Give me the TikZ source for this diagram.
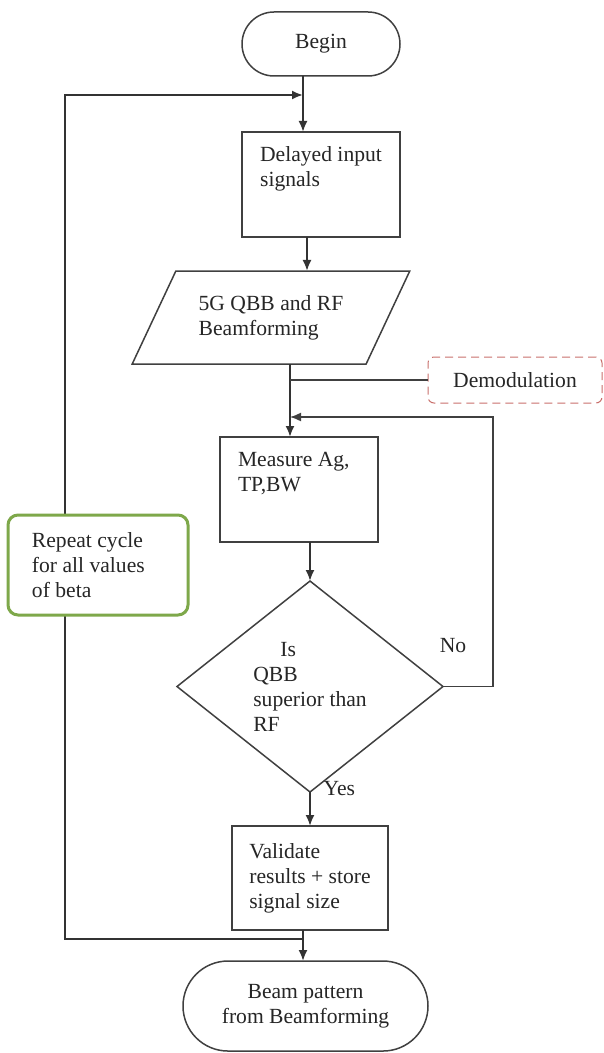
\documentclass[tikz,border=0pt]{standalone}
\usepackage{fontspec}
\setmainfont{Liberation Serif}
\usetikzlibrary{shapes.geometric,calc,arrows.meta,positioning}
\definecolor{lineg}{HTML}{404040}
\definecolor{leafg}{HTML}{7EA84A}
\definecolor{demred}{HTML}{C9706C}

\begin{document}
\begin{tikzpicture}[x=0.5pt, y=-0.5pt, >={Latex[length=5.5pt,width=4.5pt]}, font=\fontsize{10.8}{12.5}\selectfont,
  box/.style={draw=lineg, line width=0.75pt, fill=white, outer sep=0pt, align=left, text=black!85},
  proc/.style={box, minimum width=79pt, minimum height=52.5pt},
  term/.style={box, align=center},
  flow/.style={draw=black!80, line width=1pt}]
\useasboundingbox (0,0) rectangle (604,1053);
\node[term, minimum width=79pt, minimum height=32pt, rounded corners=16pt] (begin) at (321,44) {Begin};
\node[proc, below=28pt of begin] (delay) {Delayed input\\signals\\[5pt]\mbox{}};
\node[box, trapezium, trapezium left angle=58, trapezium right angle=122, trapezium stretches=true, minimum width=139pt, minimum height=46.5pt, below=17pt of delay, xshift=-25pt] (para) {5G QBB and RF\\Beamforming};
\node[proc, below=36.5pt of para, xshift=14pt] (meas) {\makebox[61pt][l]{Measure Ag,}\\TP,BW\\[5pt]\mbox{}};
\node[box, diamond, aspect=1.3, inner sep=0pt, minimum width=133pt, minimum height=105.5pt, below=19.5pt of meas, xshift=5.5pt] (dec) {\hspace*{13.5pt}Is\\QBB\\superior than\\RF};
\node[proc, minimum width=78pt, minimum height=52pt, below=17pt of dec] (valid) {Validate\\results + store\\signal size};
\node[term, minimum width=122.5pt, minimum height=45pt, rounded corners=22.5pt, below=15.5pt of valid, xshift=-2.25pt] (beam) {Beam pattern\\from Beamforming};
\node[box, draw=demred, line width=0.5pt, dash pattern=on 4pt off 2.5pt, rounded corners=3pt, minimum width=87pt, minimum height=23pt, align=center] (demod) at (515,380) {Demodulation};

\coordinate (tjoin) at (303,95);
\coordinate (djoin) at (290,380);
\coordinate (mjoin) at (290,417);
\coordinate (nocorner) at (493,417);
\coordinate (bjoin) at (303,939);
\coordinate (lbot) at (65,939);
\coordinate (ltop) at (65,95);

\draw[flow] (begin.south -| tjoin) -- (tjoin);
\draw[flow, ->] (tjoin) -- (tjoin |- delay.north);
\draw[flow, ->] ([xshift=-7pt]delay.south) -- ([xshift=-7pt]delay.south |- para.north);
\draw[flow] (para.south -| djoin) -- (mjoin);
\draw[flow, ->] (mjoin) -- (mjoin |- meas.north);
\draw[draw=lineg, line width=0.6pt] (djoin) -- (demod.west);
\draw[flow, ->] (dec.north |- meas.south) -- (dec.north);
\draw[draw=lineg, line width=0.75pt, ->] (dec.east) -| node[pos=0.1, above=13pt, text=black!85] {No} (nocorner) -- (mjoin);
\draw[flow, ->] (dec.south) -- node[pos=0, right=3pt, yshift=1.5pt, text=black!85] {Yes} (valid.north);
\draw[flow] (valid.south -| bjoin) -- (bjoin);
\draw[flow, ->] (bjoin) -- (bjoin |- beam.north);
\draw[flow, ->] (bjoin) -- (lbot) -- (ltop) -- (tjoin);

\node[box, draw=leafg, line width=1.5pt, rounded corners=5pt, minimum width=90pt, minimum height=50pt] (repeat) at (98,565) {\makebox[66pt][l]{Repeat cycle}\\for all values\\of beta};
\end{tikzpicture}
\end{document}
